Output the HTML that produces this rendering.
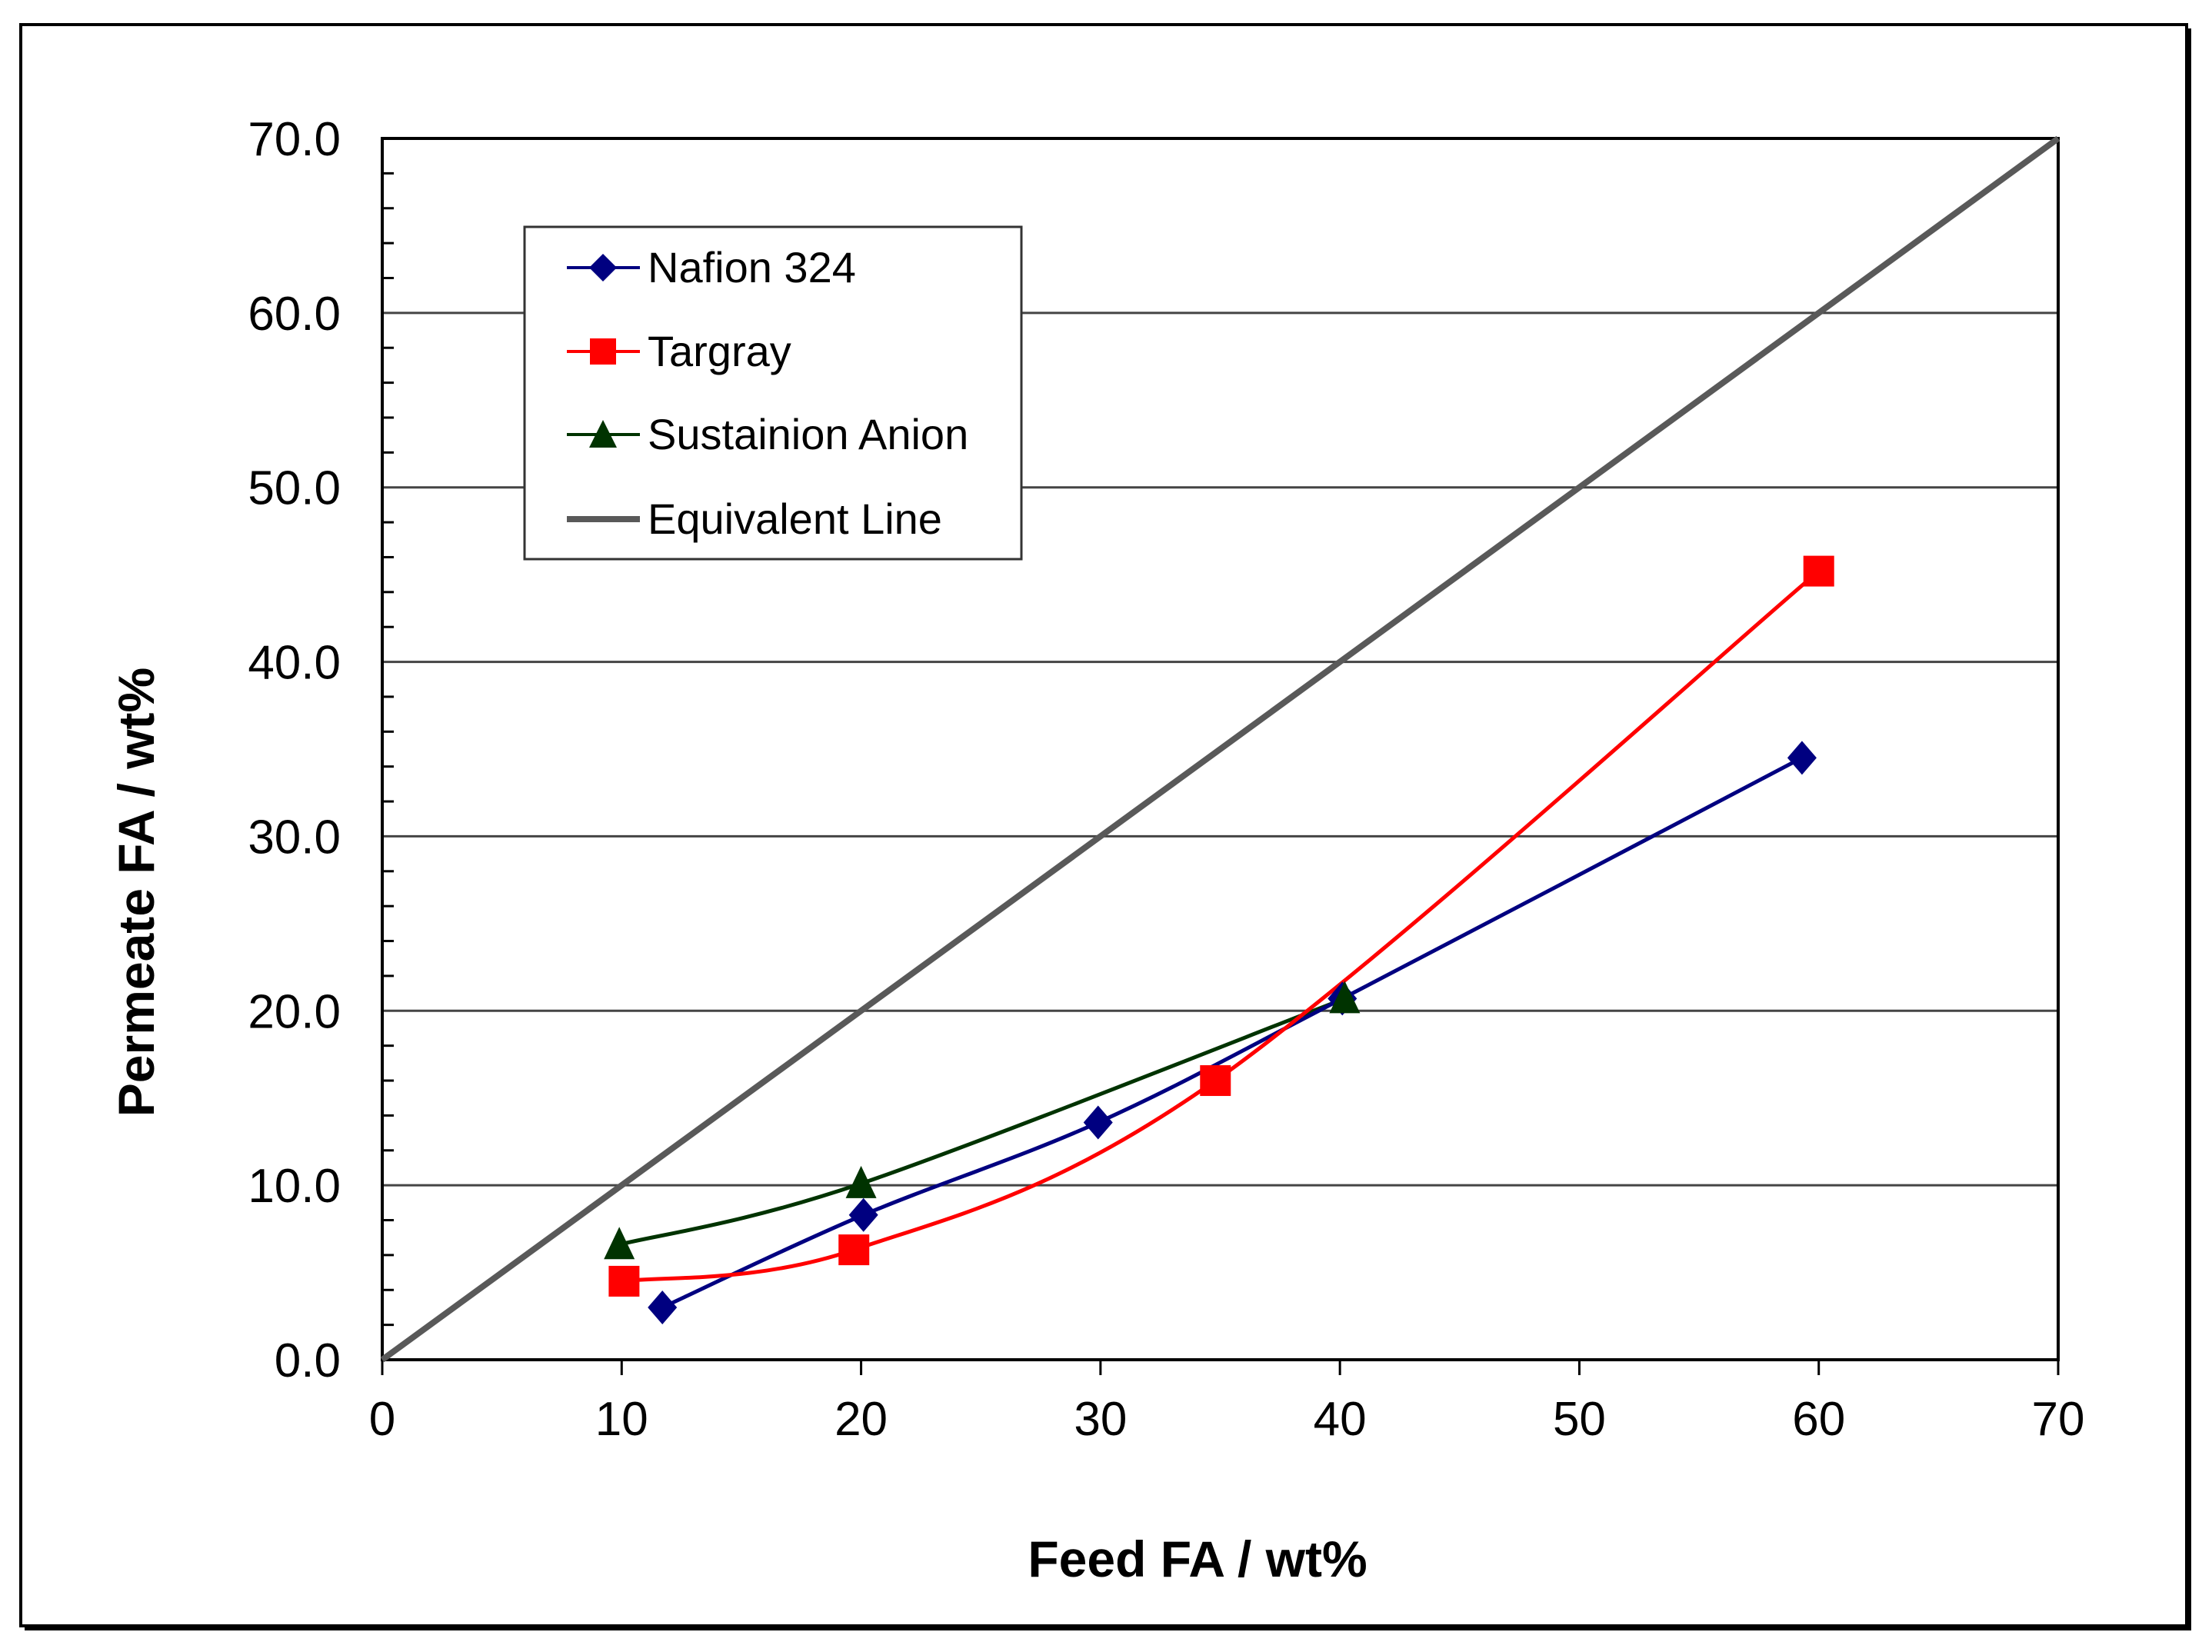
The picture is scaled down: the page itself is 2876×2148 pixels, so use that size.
<!DOCTYPE html>
<html><head><meta charset="utf-8">
<style>
html,body{margin:0;padding:0;background:#fff;}
svg{display:block;font-family:"Liberation Sans",Arial,sans-serif;}
</style></head>
<body>
<svg id="chart" width="2876" height="2148" viewBox="0 0 2876 2148" xmlns="http://www.w3.org/2000/svg">
<rect x="32" y="37" width="2817" height="2083" fill="#000"/>
<rect x="27" y="32" width="2816" height="2082" fill="#fff" stroke="#000" stroke-width="4"/>
<g id="grid"></g>
<g id="axes"></g>
<g id="series"></g>
<text x="1557" y="2050" font-size="66" font-weight="bold" text-anchor="middle">Feed FA / wt%</text>
<text transform="translate(200,1160) rotate(-90)" font-size="66" font-weight="bold" text-anchor="middle">Permeate FA / wt%</text>
<g>
<rect x="682" y="295" width="646" height="432" fill="#fff" stroke="#333" stroke-width="3"/>
<g>
<line x1="737" y1="348" x2="832" y2="348" stroke="#000080" stroke-width="4"/>
<polygon points="784,330 802,348 784,366 766,348" fill="#000080"/>
<text x="842" y="367" font-size="56">Nafion 324</text></g>
<g>
<line x1="737" y1="457" x2="832" y2="457" stroke="#ff0000" stroke-width="4"/>
<rect x="767" y="440" width="34" height="34" fill="#ff0000"/>
<text x="842" y="476" font-size="56">Targray</text></g>
<g>
<line x1="737" y1="565" x2="832" y2="565" stroke="#003300" stroke-width="4"/>
<polygon points="784,546 802,582 766,582" fill="#003300"/>
<text x="842" y="584" font-size="56">Sustainion Anion</text></g>
<g>
<line x1="737" y1="675" x2="832" y2="675" stroke="#595959" stroke-width="8"/>
<text x="842" y="694" font-size="56">Equivalent Line</text></g>
</g>
</svg>
<script>
const xTicks = [0,10,20,30,40,50,60,70];
const yTicks = [0,10,20,30,40,50,60,70];
const yTickLabels = ["0.0","10.0","20.0","30.0","40.0","50.0","60.0","70.0"];
const nafionX = [11.7,20.1,29.9,40.1,59.3];
const nafionY = [3.0,8.3,13.6,20.7,34.5];
const targrayX = [10.1,19.7,34.8,60.0];
const targrayY = [4.5,6.3,16.0,45.2];
const sustX = [9.9,20.0,40.2];
const sustY = [6.6,10.1,20.7];
const equivX = [0,70];
const equivY = [0,70];

const L=497,R=2676,T=180,B=1768;
const sx=v=>L+(v-0)/(70-0)*(R-L);
const sy=v=>B-(v-0)/(70-0)*(B-T);
const NS="http://www.w3.org/2000/svg";
function mk(tag,attrs,parent){const e=document.createElementNS(NS,tag);for(const k in attrs)e.setAttribute(k,attrs[k]);parent.appendChild(e);return e;}
const grid=document.getElementById('grid'),axes=document.getElementById('axes'),ser=document.getElementById('series');

yTicks.forEach((v,i)=>{
  if(v>0&&v<70){const g=mk('line',{x1:L,x2:R,y1:sy(v),y2:sy(v),stroke:'#444','stroke-width':3},grid);
  
  }
  const t=mk('text',{x:443,y:sy(v)+22,'font-size':62,'text-anchor':'end'},axes);
  t.textContent=yTickLabels[i];
  
  
});
for(let v=2;v<70;v+=2){ if(v%10===0)continue;
  const m=mk('line',{x1:L,x2:L+15,y1:sy(v),y2:sy(v),stroke:'#000','stroke-width':3},axes);
  
  
}
xTicks.forEach(v=>{
  const tk=mk('line',{x1:sx(v),x2:sx(v),y1:B,y2:B+20,stroke:'#000','stroke-width':3},axes);
  
  
  const t=mk('text',{x:sx(v),y:1866,'font-size':62,'text-anchor':'middle'},axes);
  t.textContent=String(v);
  
  
});
const frame=mk('rect',{x:L,y:T,width:R-L,height:B-T,fill:'none',stroke:'#000','stroke-width':4},axes);



function smooth(xs,ys){
  const p=xs.map((x,i)=>[sx(x),sy(ys[i])]);
  let d=`M${p[0][0]},${p[0][1]}`;
  for(let i=0;i<p.length-1;i++){
    const p0=p[i-1]||p[i],p1=p[i],p2=p[i+1],p3=p[i+2]||p2,k=1/6;
    d+=` C${p1[0]+(p2[0]-p0[0])*k},${p1[1]+(p2[1]-p0[1])*k} ${p2[0]-(p3[0]-p1[0])*k},${p2[1]-(p3[1]-p1[1])*k} ${p2[0]},${p2[1]}`;
  }
  return d;
}
const eq=mk('line',{x1:sx(equivX[0]),y1:sy(equivY[0]),x2:sx(equivX[1]),y2:sy(equivY[1]),stroke:'#595959','stroke-width':8},ser);



const s1=mk('path',{d:smooth(sustX,sustY),fill:'none',stroke:'#003300','stroke-width':5},ser);


const s2=mk('path',{d:smooth(nafionX,nafionY),fill:'none',stroke:'#000080','stroke-width':5},ser);


const s3=mk('path',{d:smooth(targrayX,targrayY),fill:'none',stroke:'#ff0000','stroke-width':5},ser);



nafionX.forEach((x,i)=>{const cx=sx(x),cy=sy(nafionY[i]);
  const m=mk('polygon',{points:`${cx},${cy-22} ${cx+19},${cy} ${cx},${cy+22} ${cx-19},${cy}`,fill:'#000080'},ser);
  
  });
targrayX.forEach((x,i)=>{const cx=sx(x),cy=sy(targrayY[i]);
  const m=mk('rect',{x:cx-20,y:cy-20,width:40,height:40,fill:'#ff0000'},ser);
  
  });
sustX.forEach((x,i)=>{const cx=sx(x),cy=sy(sustY[i]);
  const m=mk('polygon',{points:`${cx},${cy-23} ${cx+20},${cy+19} ${cx-20},${cy+19}`,fill:'#003300'},ser);
  
  });
</script>
</body></html>
